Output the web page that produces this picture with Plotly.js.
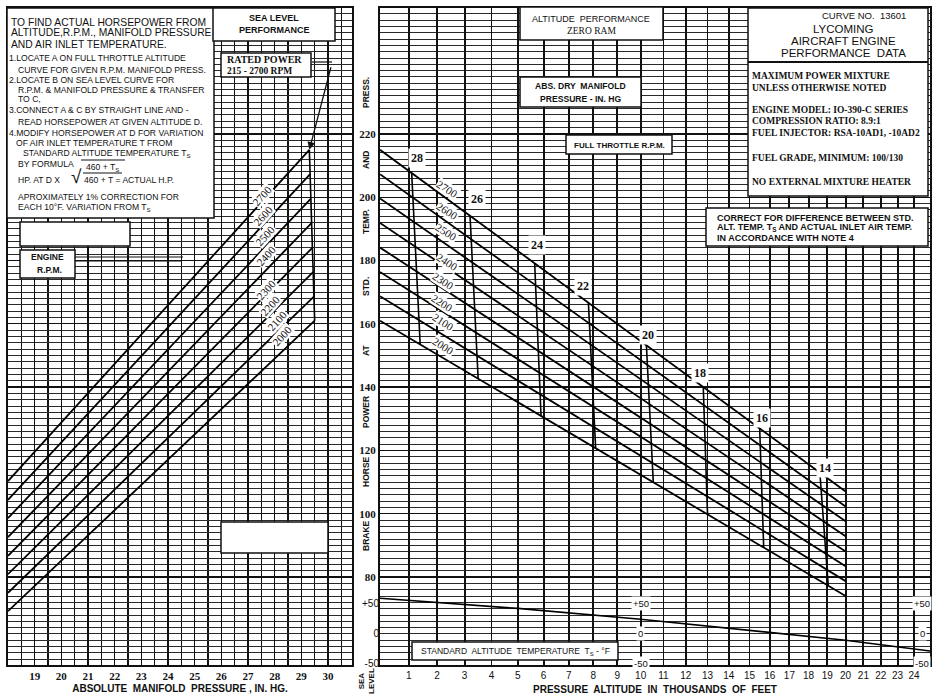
<!DOCTYPE html>
<html><head><meta charset="utf-8">
<script src="https://cdn.plot.ly/plotly-3.0.1.min.js"></script>
<style>html,body{margin:0;padding:0;background:#fff}#chart{width:934px;height:699px}</style>
</head><body><div id="chart"></div>
<script>
// ================= DATA =================
const rpm = [2700, 2600, 2500, 2400, 2300, 2200, 2100, 2000];
// Sea level performance: HP at 18 in. Hg and at full throttle
const slMPStart = 18;
const slHpAt18 = [110.3, 104.4, 98.6, 92.6, 86.7, 80.9, 75.0, 69.2];
const slFullThrottleMP = [29.3, 29.33, 29.36, 29.39, 29.42, 29.45, 29.48, 29.5];
const slFullThrottleHp = [215, 207.3, 199.6, 191.9, 184.1, 176.4, 168.7, 161];
// Altitude performance: full throttle HP at sea level (above) and at 20,000 ft
const altEnd = 20;
const hpAt20k = [107, 102.3, 97.6, 92.9, 88.1, 83.4, 78.7, 74];
// Constant manifold pressure lines (altitude in 1000 ft, HP at ends)
const mpLabels = [28, 26, 24, 22, 20, 18, 16, 14];
const mpAltTop = [1.1, 3.2, 5.65, 7.8, 10.25, 12.8, 15.5, 18.6];
const mpHpTop = [207.6, 194.2, 179.2, 166.7, 153.3, 140.1, 126.9, 112.8];
const mpAltBottom = [1.4, 3.5, 5.9, 8.1, 10.55, 13.0, 15.7, 19.05];
const mpHpBottom = [153.4, 142.8, 131.0, 120.6, 110.0, 99.7, 89.3, 77.2];
// Standard altitude temperature
const tempAlt = [0, 5, 10, 15, 20, 25];
const tempF = [58, 41, 23, 5, -12, -30];
// Ticks
const mpTicks = [19, 20, 21, 22, 23, 24, 25, 26, 27, 28, 29, 30];
const altTicks = [1,2,3,4,5,6,7,8,9,10,11,12,13,14,15,16,17,18,19,20,21,22,23,24];
const hpTicks = [80, 100, 120, 140, 160, 180, 200, 220];
const tempTicks = [-50, 0, 50];
const tempTickText = ['-50', '0', '+50'];

// ================= SCALE =================
// The altitude axis of the chart is linear in (1 - density ratio)
function altScale(h) { return 1 - Math.pow(1 - 6.8756e-3 * h, 4.2559); }

// ================= LAYOUT CONSTANTS =================
const W = 934, H = 699;
const SANS = 'Liberation Sans, Arial, sans-serif';
const SERIF = 'Liberation Serif, Times New Roman, serif';
const INK = '#111';
const px = x => x / W, py = y => 1 - y / H;
const yDom = [py(665), py(8)];
const hpRange = [52.2, 259.8];
const tempRange = [-53.3, 1041.7];

const data = [];
function addLine(x, y, xa, ya, w) {
  data.push({type: 'scatter', mode: 'lines', x, y, xaxis: xa, yaxis: ya,
    line: {color: '#000', width: w || 1.8}, hoverinfo: 'skip', showlegend: false});
}
rpm.forEach((r, i) => addLine([slMPStart, slFullThrottleMP[i]], [slHpAt18[i], slFullThrottleHp[i]], 'x', 'y'));
addLine(slFullThrottleMP, slFullThrottleHp, 'x', 'y', 1.6);
rpm.forEach((r, i) => addLine([altScale(0), altScale(altEnd)], [slFullThrottleHp[i], hpAt20k[i]], 'x2', 'y2'));
mpLabels.forEach((m, i) => addLine([altScale(mpAltTop[i]), altScale(mpAltBottom[i])], [mpHpTop[i], mpHpBottom[i]], 'x2', 'y2', 1.6));
addLine(tempAlt.map(altScale), tempF, 'x2', 'y3', 1.6);

// ================= ANNOTATIONS & SHAPES =================
const ann = [];
function T(text, x, y, o = {}) {
  ann.push({text, x: px(x), y: py(y), xref: 'paper', yref: 'paper', showarrow: false,
    xanchor: o.anchor || 'left', yanchor: 'middle', textangle: o.angle || 0,
    bgcolor: o.bg || 'rgba(0,0,0,0)', borderpad: o.pad || 0,
    font: {family: o.fam || SANS, size: o.size || 9, color: INK, weight: o.bold ? 'bold' : 'normal'}});
}
const shapes = [];
function B(x0, y0, x1, y1, w) {
  shapes.push({type: 'rect', xref: 'paper', yref: 'paper', x0: px(x0), x1: px(x1), y0: py(y1), y1: py(y0),
    fillcolor: '#fff', line: {color: INK, width: w || 1.5}, layer: 'above'});
}
function L(x0, y0, x1, y1, w) {
  shapes.push({type: 'line', xref: 'paper', yref: 'paper', x0: px(x0), x1: px(x1), y0: py(y0), y1: py(y1),
    line: {color: INK, width: w || 1.3}, layer: 'above'});
}

// Instruction box
B(7, 8, 214, 218);
T('TO FIND ACTUAL HORSEPOWER FROM', 10, 22, {size: 10.3});
T('ALTITUDE,R.P.M., MANIFOLD PRESSURE', 10, 33, {size: 10.3});
T('AND AIR INLET TEMPERATURE.', 10, 44, {size: 10.3});
const instr = [
  ['1.LOCATE A ON FULL THROTTLE ALTITUDE', 8, 58],
  ['CURVE FOR GIVEN R.P.M. MANIFOLD PRESS.', 17, 70],
  ['2.LOCATE B ON SEA LEVEL CURVE FOR', 8, 80],
  ['R.P.M. &amp; MANIFOLD PRESSURE &amp; TRANSFER', 17, 90],
  ['TO C,', 17, 99],
  ['3.CONNECT A &amp; C BY STRAIGHT LINE AND -', 8, 110],
  ['READ HORSEPOWER AT GIVEN ALTITUDE D.', 17, 122],
  ['4.MODIFY HORSEPOWER AT D FOR VARIATION', 8, 133],
  ['OF AIR INLET TEMPERATURE T FROM', 15, 143],
  ['STANDARD ALTITUDE TEMPERATURE T<sub>S</sub>', 22, 154],
  ['BY FORMULA', 17, 164],
  ['HP. AT D X', 17, 180],
  ['APROXIMATELY 1% CORRECTION FOR', 17, 197],
  ['EACH 10°F. VARIATION FROM T<sub>S</sub>', 17, 208]
];
instr.forEach(r => T(r[0], r[1], r[2], {size: 8.6}));
T('√', 70, 176, {size: 19});
T('460 + T<sub>S</sub>', 85, 167, {size: 8.6});
T('460 + T = ACTUAL H.P.', 83, 180, {size: 8.6});
L(81, 160, 125, 160, 1);
L(83, 173, 122, 173, 1);

// Sea level performance
B(213, 8, 335, 41);
T('SEA LEVEL', 274, 18, {anchor: 'center', bold: true, size: 9});
T('PERFORMANCE', 274, 30, {anchor: 'center', bold: true, size: 9});
B(221, 53, 311, 77);
T('RATED POWER', 226, 59, {fam: SERIF, bold: true, size: 10});
T('215 - 2700 RPM', 226, 71, {fam: SERIF, bold: true, size: 9.5});
L(312, 62, 332, 62, 1.2);
ann.push({x: slFullThrottleMP[0], y: slFullThrottleHp[0], xref: 'x', yref: 'y', text: '', showarrow: true,
  axref: 'pixel', ayref: 'pixel', ax: 22, ay: -84, arrowhead: 2, arrowsize: 1.2, arrowwidth: 1.3, arrowcolor: INK, standoff: 0});

B(20, 222, 130, 246);
B(20, 250, 75, 278);
T('ENGINE', 47, 257, {anchor: 'center', bold: true, size: 8.5});
T('R.P.M.', 49, 270, {anchor: 'center', bold: true, size: 8.5});
L(75, 257, 183, 257, 1.2);
L(75, 261, 181, 261, 1.2);
B(221, 522, 328, 553);

// left RPM labels
const leftLbl = [[262,196],[263,216],[265,236],[266,256],[266,290],[270,306],[277,321],[282,336]];
rpm.forEach((r, i) => T(String(r), leftLbl[i][0], leftLbl[i][1], {anchor: 'center', angle: -48, fam: SERIF, size: 11, bg: '#fff'}));

// Right panel boxes
B(520, 7, 663, 40);
T('ALTITUDE  PERFORMANCE', 591, 19, {anchor: 'center', size: 9});
T('ZERO RAM', 591, 31, {anchor: 'center', size: 9.5, fam: SERIF});
B(520, 77, 641, 107);
T('ABS. DRY  MANIFOLD', 580, 86, {anchor: 'center', size: 8.6, bold: true});
T('PRESSURE - IN. HG', 580, 99, {anchor: 'center', size: 8.6, bold: true});
B(566, 135, 672, 154);
T('FULL THROTTLE R.P.M.', 619, 145, {anchor: 'center', size: 8, bold: true});

B(748, 8, 928, 196);
L(748, 62, 928, 62, 2);
T('CURVE NO.  13601', 907, 16, {anchor: 'right', size: 9.5});
T('LYCOMING', 843, 29, {anchor: 'center', size: 11.5});
T('AIRCRAFT ENGINE', 843, 41, {anchor: 'center', size: 11.5});
T('PERFORMANCE  DATA', 843, 53, {anchor: 'center', size: 11.5});
const spec = [['MAXIMUM POWER MIXTURE', 76], ['UNLESS OTHERWISE NOTED', 88],
  ['ENGINE MODEL: IO-390-C SERIES', 110], ['COMPRESSION RATIO: 8.9:1', 121],
  ['FUEL INJECTOR: RSA-10AD1, -10AD2', 133], ['FUEL GRADE, MINIMUM: 100/130', 158],
  ['NO EXTERNAL MIXTURE HEATER', 182]];
spec.forEach(s => T(s[0], 751, s[1], {fam: SERIF, size: 9.5, bold: true}));

B(706, 208, 928, 246);
T('CORRECT FOR DIFFERENCE BETWEEN STD.', 716, 218, {size: 9, bold: true});
T('ALT. TEMP. T<sub>S</sub> AND ACTUAL INLET AIR TEMP.', 716, 228, {size: 9, bold: true});
T('IN ACCORDANCE WITH NOTE 4', 716, 238, {size: 9, bold: true});

// right RPM labels
const rightLbl = [[447,189],[447,211],[446,232],[447,262],[443,281],[442,303],[443,322],[443,346]];
rpm.forEach((r, i) => T(String(r), rightLbl[i][0], rightLbl[i][1], {anchor: 'center', angle: 33, fam: SERIF, size: 11, bg: '#fff'}));
// MP labels
const mpLbl = [[417,158],[477,199],[537,245],[583,286],[648,335],[700,373],[762,418],[825,468]];
mpLabels.forEach((m, i) => T(String(m), mpLbl[i][0], mpLbl[i][1], {anchor: 'center', fam: SERIF, size: 12, bold: true, bg: '#fff', pad: 2}));

// Temperature box and inner labels
B(412, 642, 618, 660);
T('STANDARD  ALTITUDE  TEMPERATURE  T<sub>S</sub> - °F', 515, 651, {anchor: 'center', size: 8.5});
tempTicks.forEach((t, i) => {
  ann.push({text: tempTickText[i], x: altScale(10), y: t, xref: 'x2', yref: 'y3', showarrow: false, bgcolor: '#fff',
    font: {family: SANS, size: 9.5, color: INK}, xanchor: 'center', yanchor: 'middle'});
  ann.push({text: tempTickText[i], x: px(922), y: t, xref: 'paper', yref: 'y3', showarrow: false, bgcolor: '#fff',
    font: {family: SANS, size: 9.5, color: INK}, xanchor: 'center', yanchor: 'middle'});
});

// Y axis title words
const yWords = [['PRESS.', 93], ['AND', 160], ['TEMP.', 222], ['STD.', 287], ['AT', 350], ['POWER', 412], ['HORSE', 472], ['BRAKE', 536]];
yWords.forEach(w => T(w[0], 366, w[1], {anchor: 'center', angle: -90, size: 8.5, bold: true}));
T('SEA<br>LEVEL', 366, 681, {anchor: 'center', angle: -90, size: 8, bold: true});

// ================= AXES =================
const gridMain = {showgrid: true, gridcolor: '#111', zeroline: false, ticks: '',
  showline: true, linecolor: INK, linewidth: 2, mirror: true};
const layout = {
  width: W, height: H, margin: {l: 0, r: 0, t: 0, b: 0},
  paper_bgcolor: '#fff', plot_bgcolor: '#fff', showlegend: false,
  xaxis: Object.assign({}, gridMain, {domain: [px(8), px(352)], range: [18, 30.9], anchor: 'y',
    tickmode: 'array', tickvals: mpTicks, ticktext: mpTicks.map(String), gridwidth: 1.5,
    minor: {dtick: 0.5, tick0: 18, showgrid: true, gridcolor: '#111', gridwidth: 1.5},
    tickfont: {family: SERIF, size: 11, color: INK, weight: 'bold'},
    title: {text: 'ABSOLUTE  MANIFOLD  PRESSURE , IN. HG.', font: {family: SANS, size: 10, color: INK, weight: 'bold'}, standoff: 4}}),
  yaxis: Object.assign({}, gridMain, {domain: yDom, range: hpRange, anchor: 'x', tickmode: 'array', tickvals: hpTicks,
    showticklabels: false, gridwidth: 1.3,
    minor: {dtick: 2, tick0: 0, showgrid: true, gridcolor: '#2a2a2a', gridwidth: 1}}),
  xaxis2: Object.assign({}, gridMain, {domain: [px(380), px(930)], range: [0, altScale(25)], anchor: 'y2',
    tickmode: 'array', tickvals: altTicks.map(altScale), ticktext: altTicks.map(String), gridwidth: 1.9,
    tickfont: {family: SANS, size: 10, color: INK},
    title: {text: 'PRESSURE  ALTITUDE  IN  THOUSANDS  OF  FEET', font: {family: SANS, size: 10, color: INK, weight: 'bold'}, standoff: 6}}),
  yaxis2: Object.assign({}, gridMain, {domain: yDom, range: hpRange, anchor: 'x2', tickmode: 'array', tickvals: hpTicks,
    ticktext: hpTicks.map(String), gridwidth: 1.3,
    minor: {dtick: 2, tick0: 0, showgrid: true, gridcolor: '#2a2a2a', gridwidth: 1}}),
  yaxis3: {overlaying: 'y2', anchor: 'x2', side: 'left', range: tempRange, tickmode: 'array',
    tickvals: tempTicks, ticktext: tempTickText, ticks: '', showgrid: false, zeroline: false,
    tickfont: {family: SANS, size: 10, color: INK}},
  annotations: ann, shapes: shapes
};
layout.yaxis2.tickfont = {family: SERIF, size: 11, color: INK, weight: 'bold'};

Plotly.newPlot('chart', data, layout, {staticPlot: true, displayModeBar: false});
</script></body></html>
